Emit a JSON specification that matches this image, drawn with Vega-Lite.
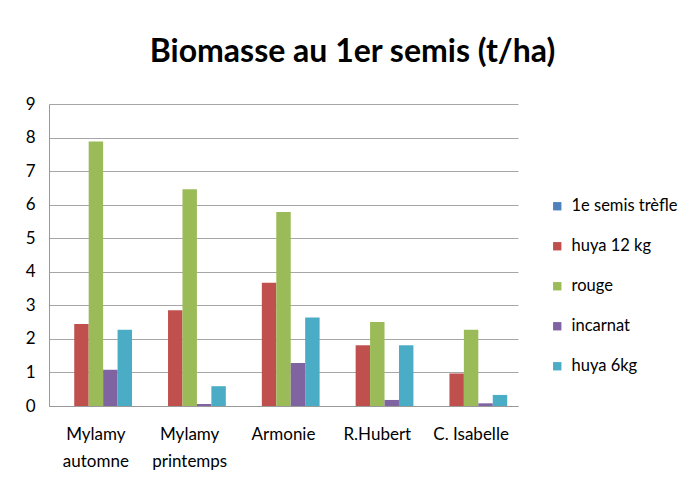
{
  "$schema": "https://vega.github.io/schema/vega-lite/v6.json",
  "autosize": "none",
  "width": 469,
  "height": 302,
  "padding": {"left": 49, "top": 104, "right": 173, "bottom": 77},
  "background": "white",
  "title": {
    "text": "Biomasse au 1er semis (t/ha)",
    "font": "Lato",
    "fontSize": 32,
    "fontWeight": "bold",
    "color": "#000000",
    "anchor": "middle",
    "dx": 69,
    "offset": 26
  },
  "data": {
    "values": [
      {"variete": "Mylamy automne", "serie": "1e semis trèfle", "biomasse": 0},
      {"variete": "Mylamy automne", "serie": "huya 12 kg", "biomasse": 2.44},
      {"variete": "Mylamy automne", "serie": "rouge", "biomasse": 7.88},
      {"variete": "Mylamy automne", "serie": "incarnat", "biomasse": 1.08},
      {"variete": "Mylamy automne", "serie": "huya 6kg", "biomasse": 2.27},
      {"variete": "Mylamy printemps", "serie": "1e semis trèfle", "biomasse": 0},
      {"variete": "Mylamy printemps", "serie": "huya 12 kg", "biomasse": 2.85},
      {"variete": "Mylamy printemps", "serie": "rouge", "biomasse": 6.46},
      {"variete": "Mylamy printemps", "serie": "incarnat", "biomasse": 0.06},
      {"variete": "Mylamy printemps", "serie": "huya 6kg", "biomasse": 0.59},
      {"variete": "Armonie", "serie": "1e semis trèfle", "biomasse": 0},
      {"variete": "Armonie", "serie": "huya 12 kg", "biomasse": 3.67},
      {"variete": "Armonie", "serie": "rouge", "biomasse": 5.78},
      {"variete": "Armonie", "serie": "incarnat", "biomasse": 1.28},
      {"variete": "Armonie", "serie": "huya 6kg", "biomasse": 2.64},
      {"variete": "R.Hubert", "serie": "1e semis trèfle", "biomasse": 0},
      {"variete": "R.Hubert", "serie": "huya 12 kg", "biomasse": 1.81},
      {"variete": "R.Hubert", "serie": "rouge", "biomasse": 2.5},
      {"variete": "R.Hubert", "serie": "incarnat", "biomasse": 0.18},
      {"variete": "R.Hubert", "serie": "huya 6kg", "biomasse": 1.81},
      {"variete": "C. Isabelle", "serie": "1e semis trèfle", "biomasse": 0},
      {"variete": "C. Isabelle", "serie": "huya 12 kg", "biomasse": 0.97},
      {"variete": "C. Isabelle", "serie": "rouge", "biomasse": 2.27},
      {"variete": "C. Isabelle", "serie": "incarnat", "biomasse": 0.08},
      {"variete": "C. Isabelle", "serie": "huya 6kg", "biomasse": 0.33}
    ]
  },
  "mark": {"type": "bar"},
  "encoding": {
    "x": {
      "field": "variete",
      "type": "nominal",
      "sort": ["Mylamy automne", "Mylamy printemps", "Armonie", "R.Hubert", "C. Isabelle"],
      "scale": {"paddingInner": 0.23, "paddingOuter": 0.115},
      "axis": {
        "title": null,
        "labelAngle": 0,
        "labelExpr": "indexof(datum.label, 'Mylamy') == 0 ? split(datum.label, ' ') : datum.label",
        "labelFont": "Lato",
        "labelFontSize": 17,
        "labelColor": "#000000",
        "labelLineHeight": 27,
        "labelPadding": 20,
        "labelBaseline": "top",
        "ticks": false,
        "domainColor": "#999999",
        "grid": false
      }
    },
    "xOffset": {
      "field": "serie",
      "type": "nominal",
      "sort": ["1e semis trèfle", "huya 12 kg", "rouge", "incarnat", "huya 6kg"],
      "scale": {"paddingInner": 0, "paddingOuter": 0}
    },
    "y": {
      "field": "biomasse",
      "type": "quantitative",
      "scale": {"domain": [0, 9], "nice": false},
      "axis": {
        "title": null,
        "values": [0, 1, 2, 3, 4, 5, 6, 7, 8, 9],
        "labelFont": "Lato",
        "labelFontSize": 17,
        "labelColor": "#000000",
        "labelPadding": 14,
        "ticks": false,
        "domainColor": "#999999",
        "gridColor": "#a6a6a6",
        "gridWidth": 1
      }
    },
    "color": {
      "field": "serie",
      "type": "nominal",
      "sort": ["1e semis trèfle", "huya 12 kg", "rouge", "incarnat", "huya 6kg"],
      "scale": {
        "domain": ["1e semis trèfle", "huya 12 kg", "rouge", "incarnat", "huya 6kg"],
        "range": ["#4F81BD", "#C0504D", "#9BBB59", "#8064A2", "#4BACC6"]
      },
      "legend": {
        "title": null,
        "orient": "none",
        "legendX": 500,
        "legendY": 94,
        "symbolType": "square",
        "symbolSize": 70,
        "symbolStrokeWidth": 0,
        "labelFont": "Lato",
        "labelFontSize": 16.5,
        "labelColor": "#000000",
        "labelOffset": 6,
        "rowPadding": 23
      }
    }
  },
  "config": {
    "view": {"stroke": null}
  }
}
